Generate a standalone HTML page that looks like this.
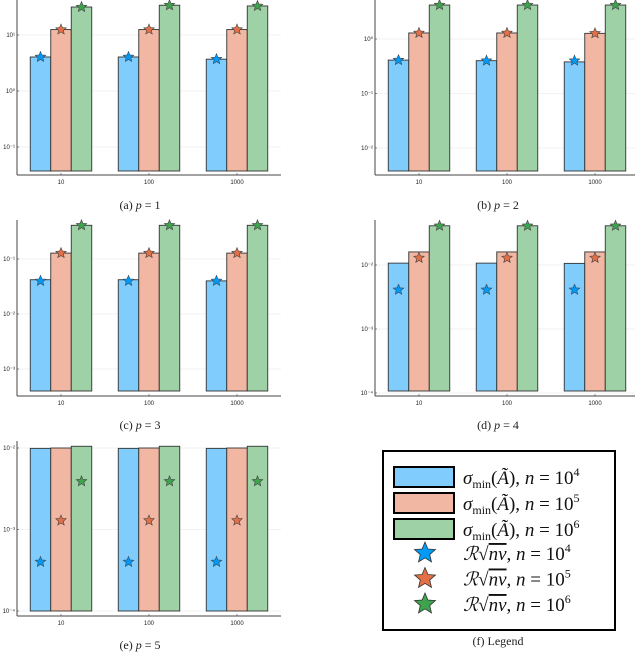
<!DOCTYPE html>
<html><head><meta charset="utf-8">
<style>
html,body{margin:0;padding:0;background:#fff;}
body{width:640px;height:653px;overflow:hidden;position:relative;font-family:"Liberation Serif",serif;}
svg{position:absolute;left:0;top:0;}
.tick{font-family:"Liberation Sans",sans-serif;font-size:6px;fill:#222;}
.cap{font-family:"Liberation Serif",serif;font-size:12px;fill:#222;}
.leg{font-family:"Liberation Serif",serif;font-size:19px;fill:#111;}
</style></head>
<body>
<svg id="fig" width="640" height="653" viewBox="0 0 640 653" xmlns="http://www.w3.org/2000/svg"></svg>
<script>
const categories = ["10","100","1000"];
const seriesNames = ["n=10^4","n=10^5","n=10^6"];
// panel p=1
const p1Ticks = [-1,0,1];
const p1Blue = [4.05,4.05,3.7];
const p1Red = [12.5,12.5,12.5];
const p1Green = [31.6,34,33];
const p1StarBlue = [4.05,4.05,3.7];
const p1StarRed = [12.5,12.5,12.5];
const p1StarGreen = [31.6,34,33];
// panel p=2
const p2Ticks = [-2,-1,0];
const p2Blue = [0.41,0.40,0.38];
const p2Red = [1.29,1.29,1.27];
const p2Green = [4.2,4.2,4.2];
const p2StarBlue = [0.41,0.40,0.40];
const p2StarRed = [1.29,1.29,1.27];
const p2StarGreen = [4.2,4.2,4.2];
// panel p=3
const p3Ticks = [-3,-2,-1];
const p3Blue = [0.042,0.042,0.040];
const p3Red = [0.128,0.128,0.128];
const p3Green = [0.41,0.41,0.41];
const p3StarBlue = [0.040,0.040,0.040];
const p3StarRed = [0.128,0.128,0.128];
const p3StarGreen = [0.41,0.41,0.41];
// panel p=4
const p4Ticks = [-4,-3,-2];
const p4Blue = [0.0107,0.0107,0.0106];
const p4Red = [0.0160,0.0160,0.0160];
const p4Green = [0.041,0.041,0.041];
const p4StarBlue = [0.0041,0.0041,0.0041];
const p4StarRed = [0.0129,0.0129,0.0129];
const p4StarGreen = [0.041,0.041,0.041];
// panel p=5
const p5Ticks = [-4,-3,-2];
const p5Blue = [0.0099,0.0099,0.0099];
const p5Red = [0.0100,0.0100,0.0100];
const p5Green = [0.0105,0.0105,0.0105];
const p5StarBlue = [0.00040,0.00040,0.00040];
const p5StarRed = [0.00129,0.00129,0.00129];
const p5StarGreen = [0.0039,0.0039,0.0039];

const NS="http://www.w3.org/2000/svg";
const svg=document.getElementById('fig');
function mk(tag,attrs,parent){const e=document.createElementNS(NS,tag);for(const k in attrs)e.setAttribute(k,attrs[k]);(parent||svg).appendChild(e);return e;}
const fills=["#80CCFC","#F1B7A3","#9ED2A6"];
const starCols=["#009AFA","#E36F47","#3DA44D"];
function starPath(cx,cy,r){let d="";for(let i=0;i<10;i++){const rr=i%2?r*0.45:r;const a=-Math.PI/2+i*Math.PI/5;d+=(i?"L":"M")+(cx+rr*Math.cos(a)).toFixed(2)+","+(cy+rr*Math.sin(a)).toFixed(2);}return d+"Z";}
const sup={"-4":"⁻⁴","-3":"⁻³","-2":"⁻²","-1":"⁻¹","0":"⁰","1":"¹"};

function panel(id,L,R,topY,axisY,tick0Y,tick0,pxDec,barBottom,centers,ticks,bars,stars,caption,capX,capY){
  const g=mk('g',{});
  
  
  const yS=v=>tick0Y-(Math.log10(v)-tick0)*pxDec;
  ticks.forEach(t=>{
    const y=tick0Y-(t-tick0)*pxDec;
    const gl=mk('line',{x1:L,x2:R,y1:y,y2:y,stroke:"#e6e6e6","stroke-width":0.6},g);
    
    
    mk('line',{x1:L,x2:L+2,y1:y,y2:y,stroke:"#444","stroke-width":0.6},g);
    const tl=mk('text',{x:L-2,y:y+2,"text-anchor":"end",class:"tick"},g);
    tl.textContent="10"+sup[String(t)];
    
    
  });
  const bw=20.5;
  bars.forEach((ser,si)=>{
    ser.forEach((v,ci)=>{
      const x=centers[ci]+(si-1.5)*bw;
      const y=yS(v);
      const r=mk('rect',{x:x,y:y,width:bw,height:barBottom-y,fill:fills[si],stroke:"#333","stroke-width":0.9},g);
      
      
    });
  });
  stars.forEach((ser,si)=>{
    ser.forEach((v,ci)=>{
      const x=centers[ci]+(si-1)*bw;
      const s=mk('path',{d:starPath(x,yS(v),5.5),fill:starCols[si],stroke:"#444","stroke-width":0.6},g);
      
      
    });
  });
  mk('line',{x1:L,x2:L,y1:topY,y2:axisY,stroke:"#444","stroke-width":1},g);
  mk('line',{x1:L,x2:R,y1:axisY,y2:axisY,stroke:"#444","stroke-width":1},g);
  centers.forEach((c,ci)=>{
    mk('line',{x1:c,x2:c,y1:axisY,y2:axisY-2,stroke:"#444","stroke-width":0.6},g);
    const t=mk('text',{x:c,y:axisY+9,"text-anchor":"middle",class:"tick"},g);
    t.textContent=categories[ci];
    
    
  });
  const cp=mk('text',{x:capX,y:capY,"text-anchor":"middle",class:"cap"},g);
  cp.innerHTML=caption;
  
  
}
const cL=[61,149,237], cR=[419,507,595];
panel('a',17,281,0,175,35,1,56,171,cL,p1Ticks,[p1Blue,p1Red,p1Green],[p1StarBlue,p1StarRed,p1StarGreen],'(a) <tspan font-style="italic">p</tspan> = 1',140,209);
panel('b',375,635,0,175,39,0,54.5,171,cR,p2Ticks,[p2Blue,p2Red,p2Green],[p2StarBlue,p2StarRed,p2StarGreen],'(b) <tspan font-style="italic">p</tspan> = 2',498,209);
panel('c',17,281,220,396,259,-1,55,391,cL,p3Ticks,[p3Blue,p3Red,p3Green],[p3StarBlue,p3StarRed,p3StarGreen],'(c) <tspan font-style="italic">p</tspan> = 3',140,429);
panel('d',375,635,220,396,393,-4,64,391,cR,p4Ticks,[p4Blue,p4Red,p4Green],[p4StarBlue,p4StarRed,p4StarGreen],'(d) <tspan font-style="italic">p</tspan> = 4',498,429);
panel('e',17,281,441,616,611,-4,81.5,611,cL,p5Ticks,[p5Blue,p5Red,p5Green],[p5StarBlue,p5StarRed,p5StarGreen],'(e) <tspan font-style="italic">p</tspan> = 5',140,649);

const lg=mk('g',{});


mk('rect',{x:383,y:451,width:232,height:179,fill:"#fff",stroke:"#000","stroke-width":2},lg);
const expo=["4","5","6"];
[0,1,2].forEach(i=>{
  const y=467+i*26;
  const r=mk('rect',{x:394,y:y,width:60,height:20,fill:fills[i],stroke:"#000","stroke-width":2},lg);
  
  
  const t=mk('text',{x:463,y:y+17,class:"leg"},lg);
  t.innerHTML='<tspan font-style="italic">σ</tspan><tspan font-size="12" dy="4">min</tspan><tspan dy="-4">(</tspan><tspan font-style="italic">Ã</tspan>), <tspan font-style="italic">n</tspan> = 10<tspan font-size="12" dy="-8">'+expo[i]+'</tspan>';
  
  
});
[0,1,2].forEach(i=>{
  const y=553+i*25.5;
  const s=mk('path',{d:starPath(425,y,11),fill:starCols[i],stroke:"#333","stroke-width":0.8},lg);
  
  
  const t=mk('text',{x:463,y:y+7,class:"leg"},lg);
  t.innerHTML='<tspan font-style="italic">ℛ</tspan>√<tspan font-style="italic" text-decoration="overline">nν</tspan>, <tspan font-style="italic">n</tspan> = 10<tspan font-size="12" dy="-8">'+expo[i]+'</tspan>';
  
  
});
const fc=mk('text',{x:498,y:645,"text-anchor":"middle",class:"cap"});
fc.textContent='(f) Legend';


</script>
</body></html>
